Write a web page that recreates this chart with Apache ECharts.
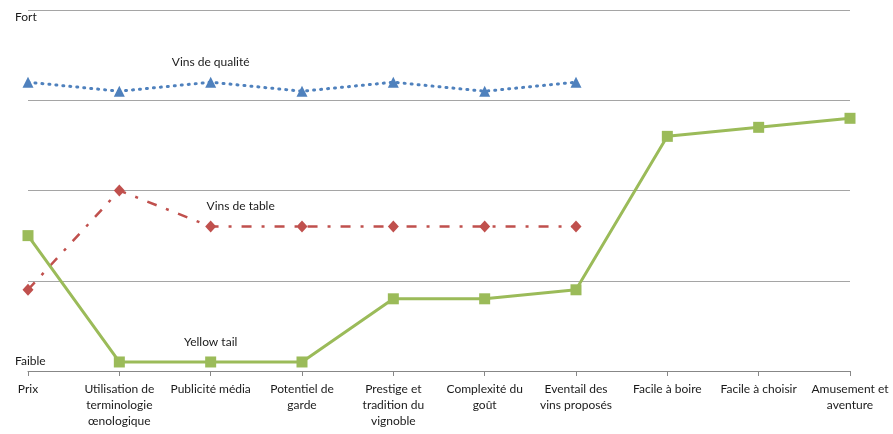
<!DOCTYPE html>
<html><head><meta charset="utf-8">
<script src="https://cdn.jsdelivr.net/npm/echarts@6/dist/echarts.min.js"></script>
<style>html,body{margin:0;padding:0;background:#fff}#c{width:893px;height:434px}</style>
</head><body><div id="c"></div>
<script>
const categories = ["Prix","Utilisation de\nterminologie\nœnologique","Publicité média","Potentiel de\ngarde","Prestige et\ntradition du\nvignoble","Complexité du\ngoût","Eventail des\nvins proposés","Facile à boire","Facile à choisir","Amusement et\naventure"];
const qualite = [3.2,3.1,3.2,3.1,3.2,3.1,3.2,null,null,null];
const table = [0.9,2.0,1.6,1.6,1.6,1.6,1.6,null,null,null];
const yellowTail = [1.5,0.1,0.1,0.1,0.8,0.8,0.9,2.6,2.7,2.8];
const yTickLabels = ["Faible","","","","Fort"];
const seriesNames = ["Vins de qualité","Vins de table","Yellow tail"];
const labelIndex = [2,2,2];

const FONT = 'Lato';
function withLabel(arr, idx, name, offset){
  return arr.map((v,i)=> i===idx ? {value:v, label:{show:true, formatter:name, position:'top', offset:offset, fontFamily:FONT, fontSize:12, color:'#1a1a1a'}} : v);
}
const chart = echarts.init(document.getElementById('c'));
chart.setOption({
  animation:false,
  grid:{left:28,right:43,top:10,bottom:63,containLabel:false},
  xAxis:{type:'category',data:categories,boundaryGap:false,
    axisLine:{lineStyle:{color:'#878787',width:1}},
    axisTick:{show:true,length:5,inside:false,lineStyle:{color:'#878787'}},
    axisLabel:{interval:0,fontFamily:FONT,fontSize:12,color:'#1a1a1a',lineHeight:16,margin:10},
    splitLine:{show:false}},
  yAxis:{type:'value',min:0,max:4,interval:1,
    axisLine:{show:false},axisTick:{show:false},
    splitLine:{lineStyle:{color:'#a5a5a5',width:1}},
    axisLabel:{align:'left',margin:13,fontFamily:FONT,fontSize:12,color:'#1a1a1a',
      formatter:(v)=>{const t=yTickLabels[Math.round(v)]||''; if(!t) return ''; return Math.round(v)===4?'{top|'+t+'}':'{bot|'+t+'}';},
      rich:{top:{padding:[14,0,0,0],fontFamily:FONT,fontSize:12,color:'#1a1a1a'},bot:{padding:[0,0,20,0],fontFamily:FONT,fontSize:12,color:'#1a1a1a'}}}},
  series:[
    {name:seriesNames[0],type:'line',data:withLabel(qualite,labelIndex[0],seriesNames[0],[0,-4]),
      symbol:'triangle',symbolSize:11,itemStyle:{color:'#4F81BD'},
      lineStyle:{color:'#4F81BD',width:3,type:[1,6],cap:'round'},z:3},
    {name:seriesNames[1],type:'line',data:withLabel(table,labelIndex[1],seriesNames[1],[30,-3]),
      symbol:'diamond',symbolSize:[11,12],itemStyle:{color:'#C0504D'},
      lineStyle:{color:'#C0504D',width:2.5,type:[10,10,3,10]},z:3},
    {name:seriesNames[2],type:'line',data:withLabel(yellowTail,labelIndex[2],seriesNames[2],[0,-3]),
      symbol:'rect',symbolSize:11,itemStyle:{color:'#9BBB59'},
      lineStyle:{color:'#9BBB59',width:3},z:4}
  ]
});
</script></body></html>
